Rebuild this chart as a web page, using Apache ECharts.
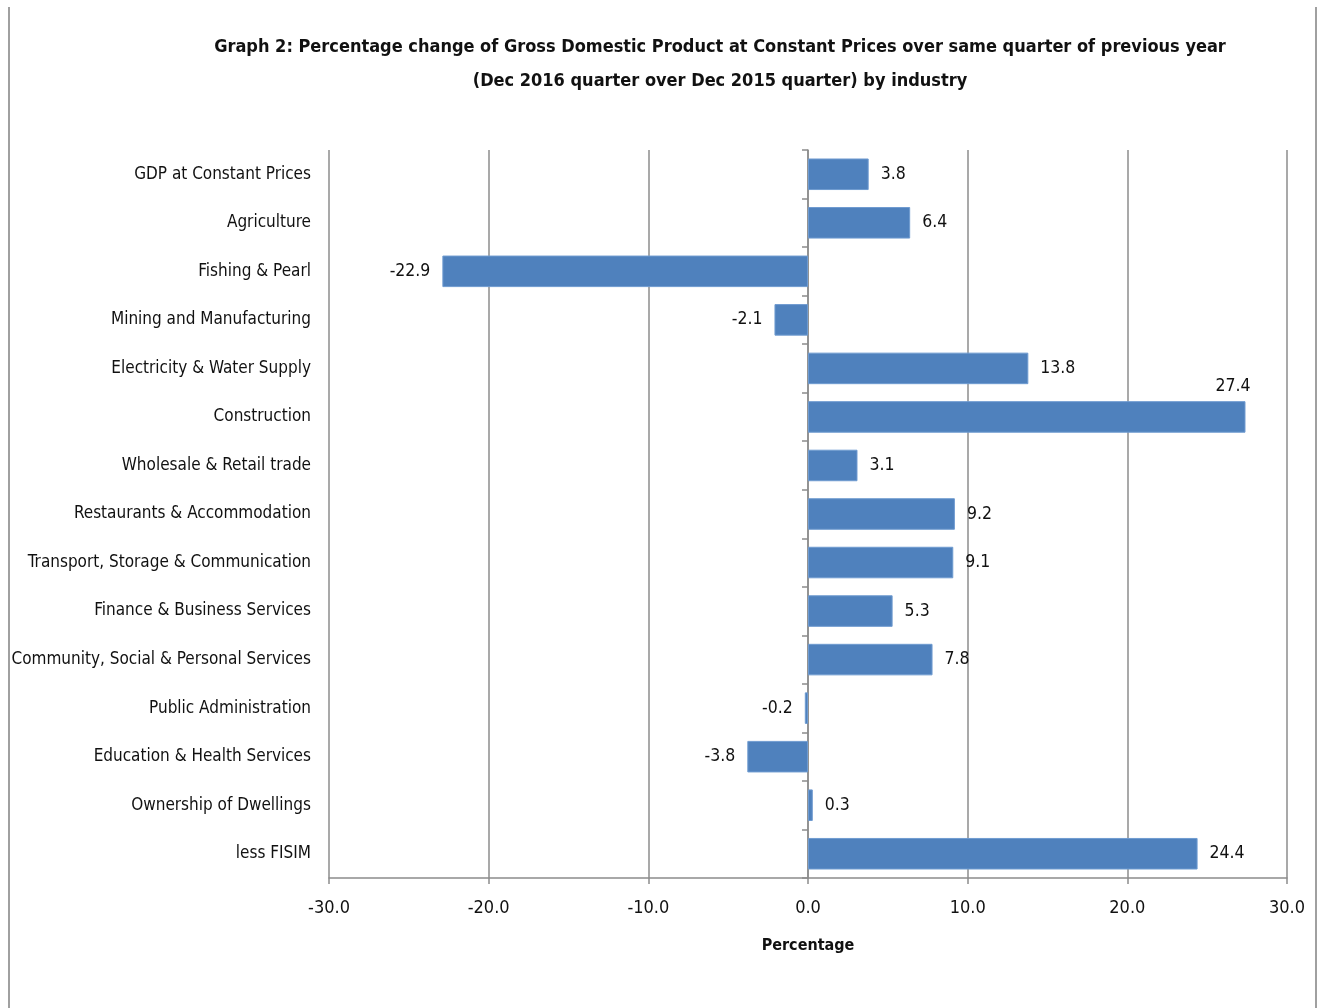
<!DOCTYPE html>
<html>
<head>
<meta charset="utf-8">
<title>Graph 2</title>
<script src="https://cdn.jsdelivr.net/npm/echarts@6/dist/echarts.min.js"></script>
<style>
  html, body { margin: 0; padding: 0; background: #fff; }
  #chart { width: 1324px; height: 1008px; }
</style>
</head>
<body>
<div id="chart"></div>
<script>
// industries, top to bottom
var industries = [
    'GDP at Constant Prices',
    'Agriculture',
    'Fishing & Pearl',
    'Mining and Manufacturing',
    'Electricity & Water Supply',
    'Construction',
    'Wholesale & Retail trade',
    'Restaurants & Accommodation',
    'Transport, Storage & Communication',
    'Finance & Business Services',
    'Community, Social & Personal Services',
    'Public Administration',
    'Education & Health Services',
    'Ownership of Dwellings',
    'less FISIM'
];
// percentage change, Dec 2016 over Dec 2015
var pctChange = [3.8, 6.4, -22.9, -2.1, 13.8, 27.4, 3.1, 9.2, 9.1, 5.3, 7.8, -0.2, -3.8, 0.3, 24.4];
// x axis ticks
var xTicks = [-30, -20, -10, 0, 10, 20, 30];

// no narrow font installed, condensed DejaVu is the closest
var FONT = "'DejaVu Sans Condensed', 'DejaVu Sans', sans-serif";
var GRID_GRAY = '#8c8c8c';

var barData = pctChange.map(function (v, i) {
    var item = { value: v };
    if (v < 0) {
        item.label = { position: 'left' };
    }
    // the longest bar has no room on the right, label sits above its end
    if (industries[i] === 'Construction') {
        item.label = { position: 'insideTopRight', offset: [17, -36] };
    }
    return item;
});

var option = {
    animation: false,
    backgroundColor: '#fff',
    textStyle: { fontFamily: FONT },
    title: {
        text: 'Graph 2: Percentage change of Gross Domestic Product at Constant Prices over same quarter of previous year\n(Dec 2016 quarter over Dec 2015 quarter) by industry',
        left: 715,
        top: 25,
        textAlign: 'center',
        textStyle: {
            fontFamily: FONT,
            fontSize: 18,
            fontWeight: 'bold',
            color: '#111',
            lineHeight: 34,
            align: 'center'
        }
    },
    grid: {
        left: 329,
        right: 37,
        top: 150,
        bottom: 130,
        containLabel: false,
        outerBoundsMode: 'none'
    },
    xAxis: {
        type: 'value',
        min: xTicks[0],
        max: xTicks[xTicks.length - 1],
        interval: 10,
        name: 'Percentage',
        nameLocation: 'middle',
        nameGap: 60,
        nameTextStyle: { fontFamily: FONT, fontSize: 16, fontWeight: 'bold', color: '#111' },
        axisLine: { show: true, lineStyle: { color: GRID_GRAY, width: 1.5 } },
        axisTick: { show: true, length: 6, lineStyle: { color: GRID_GRAY, width: 1.5 } },
        axisLabel: {
            margin: 21,
            fontSize: 18,
            color: '#111',
            formatter: function (v) { return v.toFixed(1); }
        },
        splitLine: { show: true, lineStyle: { color: GRID_GRAY, width: 1.5 } }
    },
    yAxis: [
        {
            // labels on the left side of the plot
            type: 'category',
            data: industries,
            inverse: true,
            axisLine: { show: false, onZero: false },
            axisTick: { show: false },
            axisLabel: { margin: 18, fontSize: 17, color: '#111' },
            splitLine: { show: false }
        },
        {
            // the axis line drawn at zero
            type: 'category',
            data: industries,
            inverse: true,
            position: 'left',
            axisLine: { show: true, onZero: true, lineStyle: { color: GRID_GRAY, width: 1.5 } },
            axisTick: { show: true, length: 6, lineStyle: { color: GRID_GRAY, width: 1.5 } },
            axisLabel: { show: false },
            splitLine: { show: false }
        }
    ],
    series: [{
        name: 'Percentage change',
        type: 'bar',
        yAxisIndex: 0,
        data: barData,
        barCategoryGap: '35%',
        itemStyle: {
            color: '#4f81bd',
            borderColor: '#6f9bd0',
            borderWidth: 1
        },
        label: {
            show: true,
            position: 'right',
            distance: 12,
            fontSize: 17.5,
            color: '#111',
            formatter: function (p) { return p.value.toFixed(1); }
        }
    }],
    // frame lines of the original chart area
    graphic: [
        { type: 'line', shape: { x1: 9, y1: 7, x2: 9, y2: 1008 }, style: { stroke: '#a0a0a0', lineWidth: 2 } },
        { type: 'line', shape: { x1: 1316, y1: 7, x2: 1316, y2: 1008 }, style: { stroke: '#a0a0a0', lineWidth: 2 } }
    ]
};

var myechart = echarts.init(document.getElementById('chart'));
myechart.setOption(option);
</script>
</body>
</html>
